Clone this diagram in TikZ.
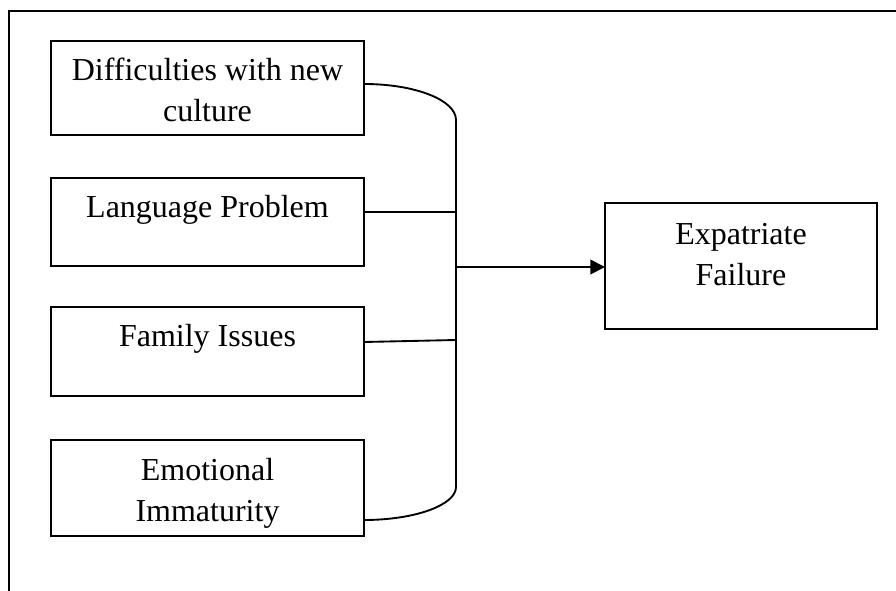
\documentclass[tikz,border=0pt]{standalone}
\usepackage{fontspec}
\setmainfont{Liberation Serif}
\usetikzlibrary{fit,calc,arrows.meta}
\tikzset{
  box/.style={draw, line width=1.4pt, inner sep=0pt, outer sep=0pt},
  txt/.style={inner sep=0pt, anchor=base, font=\fontsize{24}{30}\selectfont},
  conn/.style={line width=1.4pt},
  frame/.style={line width=1.4pt},
}
\begin{document}
\begin{tikzpicture}[x=0.75pt,y=-0.75pt]
\useasboundingbox (0,0) rectangle (896,591);
% partial outer frame
\coordinate (ftl) at (9,11);
\coordinate (ftr) at (896,11);
\coordinate (fbl) at (9,591);
\draw[frame] (ftr) -- (ftl) -- (fbl);
% boxes
\node[box, fit={(51,41) (364,135)}] (b1) {};
\node[box, fit={(51,178) (364,266)}] (b2) {};
\node[box, fit={(51,307) (364,396)}] (b3) {};
\node[box, fit={(51,440) (364,536)}] (b4) {};
\node[box, fit={(605,203) (877,329)}] (ef) {};
% texts
\node[txt] (t1a) at (207.5,81) {Difficulties with new};
\node[txt] (t1b) at (207.5,122) {culture};
\node[txt] (t2) at (207.5,218) {Language Problem};
\node[txt] (t3) at (207.5,347) {Family Issues};
\node[txt] (t4a) at (207.5,480) {Emotional};
\node[txt] (t4b) at (207.5,521) {Immaturity};
\node[txt] (t5a) at (741,245) {Expatriate};
\node[txt] (t5b) at (741,286) {Failure};
% bus coordinates
\coordinate (bustop) at (456,120);
\coordinate (busbot) at (456,487);
\coordinate (bus2) at (456,212);
\coordinate (bus3) at (456,340);
\coordinate (busout) at (456,267);
% connectors
\draw[conn] (b1.east |- 0,84) .. controls (415,84) and (456,100) .. (bustop) -- (busbot)
  .. controls (456,505) and (415,520) .. (b4.east |- 0,520);
\draw[conn] (b2.east |- bus2) -- (bus2);
\draw[conn] (b3.east |- 0,342) -- (bus3);
\draw[conn, -{Triangle[length=11pt,width=11pt]}] (busout) -- (ef.west |- busout);
\end{tikzpicture}
\end{document}
